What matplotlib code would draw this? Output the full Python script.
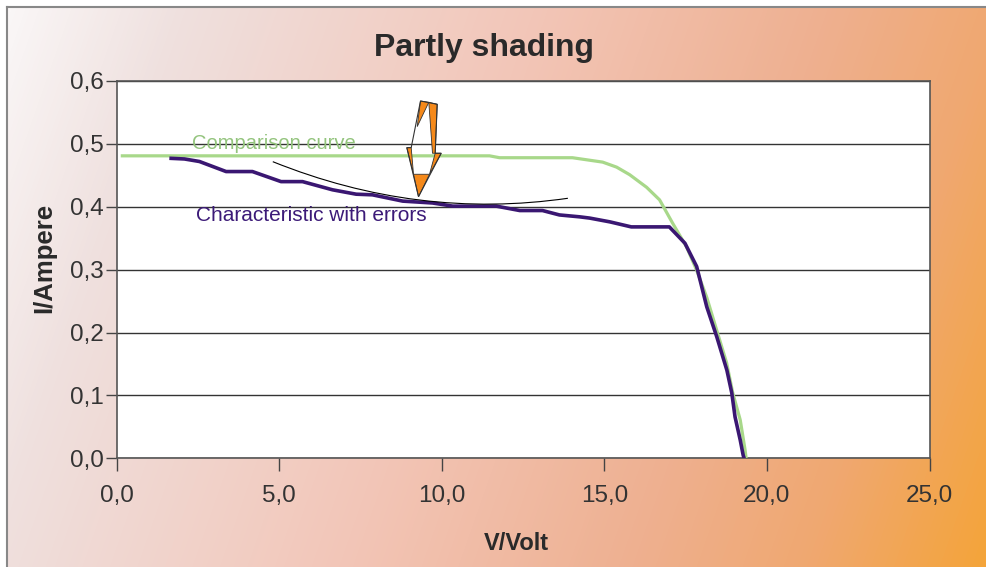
import matplotlib
matplotlib.use('Agg')
import matplotlib.pyplot as plt
import numpy as np
from matplotlib.colors import LinearSegmentedColormap
from matplotlib.path import Path
from matplotlib.patches import PathPatch, Polygon
from matplotlib.lines import Line2D
from matplotlib.ticker import FuncFormatter

plt.rcParams['font.family'] = ['Liberation Sans', 'DejaVu Sans']

# comparison curve (no shading)
comp_v = [0.18, 11.47, 11.78, 14.02, 14.95, 15.38, 15.78, 16.3, 16.7, 17.1,
          17.53, 17.84, 18.15, 18.46, 18.76, 18.95, 19.18, 19.33, 19.36]
comp_i = [0.481, 0.481, 0.478, 0.478, 0.471, 0.463, 0.451, 0.431, 0.411, 0.374,
          0.336, 0.299, 0.256, 0.203, 0.152, 0.104, 0.061, 0.013, 0.0]

# characteristic with errors (partly shaded module)
err_v = [1.68, 2.09, 2.55, 3.37, 4.18, 5.06, 5.72, 6.64, 7.37, 7.87, 8.8, 9.72,
         10.34, 11.68, 12.4, 13.1, 13.62, 14.24, 14.55, 15.17, 15.83, 17.0,
         17.48, 17.84, 18.15, 18.46, 18.77, 18.92, 19.02, 19.18, 19.27, 19.3]
err_i = [0.477, 0.476, 0.472, 0.456, 0.456, 0.440, 0.440, 0.427, 0.420, 0.419,
         0.409, 0.406, 0.401, 0.401, 0.394, 0.394, 0.387, 0.384, 0.382, 0.376,
         0.368, 0.368, 0.342, 0.305, 0.241, 0.193, 0.140, 0.104, 0.066, 0.029,
         0.005, 0.0]

x_ticks = [0, 5, 10, 15, 20, 25]
y_ticks = [0.0, 0.1, 0.2, 0.3, 0.4, 0.5, 0.6]

fig = plt.figure(figsize=(9.86, 5.67), dpi=100)
fig.patch.set_facecolor('white')

# gradient background
bg = fig.add_axes([7/986, 0, 1 - 7/986, 1 - 7/567], zorder=0)
cmap = LinearSegmentedColormap.from_list('bg', [
    (0.0, '#faf7f7'), (0.15, '#efe0de'), (0.45, '#f3c6b8'),
    (0.7, '#eeb090'), (0.85, '#f0a870'), (1.0, '#f4a43a')])
yy, xx = np.mgrid[0:560, 0:979]
t = (xx + 0.35 * yy) / (979 + 0.35 * 560)
bg.imshow(t, cmap=cmap, aspect='auto', interpolation='bilinear')
bg.axis('off')

fig.add_artist(Line2D([7/986, 1], [1 - 7/567, 1 - 7/567], transform=fig.transFigure,
                      color='#888888', lw=1.5))
fig.add_artist(Line2D([7/986, 7/986], [0, 1 - 7/567], transform=fig.transFigure,
                      color='#888888', lw=1.5))

ax = fig.add_axes([116.5/986, 1 - 458.3/567, 813/986, 377.3/567], zorder=1)
ax.set_facecolor('white')

ax.plot(comp_v, comp_i, color='#a8d88a', lw=2.3, zorder=3)
ax.plot(err_v, err_i, color='#3a1772', lw=2.6, zorder=4)

ax.set_xlim(0, 25)
ax.set_ylim(0, 0.6)
ax.set_xticks(x_ticks)
ax.set_yticks(y_ticks)
fmt = FuncFormatter(lambda v, p: f"{v:.1f}".replace('.', ','))
ax.xaxis.set_major_formatter(fmt)
ax.yaxis.set_major_formatter(fmt)
ax.tick_params(axis='x', direction='out', length=9, width=1, color='#444444',
               labelsize=17.5, labelcolor='#333333', pad=10)
ax.tick_params(axis='y', direction='out', length=8, width=1, color='#444444',
               labelsize=17.5, labelcolor='#333333', pad=1)
ax.yaxis.grid(True, color='#333333', lw=1)
ax.set_axisbelow(True)
for s in ax.spines.values():
    s.set_color('#555555')
    s.set_linewidth(1.2)

# annotation curve
p0, c, p2 = (4.806, 0.4717), (9.257, 0.379), (13.88, 0.4135)
curve = Path([p0, c, p2], [Path.MOVETO, Path.CURVE3, Path.CURVE3])
ax.add_patch(PathPatch(curve, fill=False, color='black', lw=0.8, zorder=5))

# double arrow
orange = '#f5891a'
pieces = [
    [(9.348, 0.5682), (9.603, 0.5662), (9.247, 0.5274)],
    [(9.603, 0.5662), (9.862, 0.5630), (9.800, 0.4851), (9.717, 0.4851)],
    [(9.800, 0.4851), (9.985, 0.4851), (9.625, 0.4517)],
    [(8.927, 0.4940), (9.062, 0.4940), (9.133, 0.4517)],
    [(9.133, 0.4517), (9.625, 0.4517), (9.287, 0.4160)],
]
for pc in pieces:
    ax.add_patch(Polygon(pc, closed=True, facecolor=orange, edgecolor='#333333',
                         lw=0.6, zorder=6))
outline = [(9.348, 0.5682), (9.862, 0.5630), (9.800, 0.4851), (9.985, 0.4851),
           (9.287, 0.4160), (8.927, 0.4940), (9.062, 0.4940)]
ax.add_patch(Polygon(outline, closed=True, fill=False, edgecolor='#333333',
                     lw=0.8, zorder=7))

ax.text(2.31, 0.501, 'Comparison curve', color='#93c47d', fontsize=14.5,
        ha='left', va='center', zorder=8)
ax.text(2.43, 0.386, 'Characteristic with errors', color='#3c1a78', fontsize=15,
        ha='left', va='center', zorder=8)

fig.text(483.5/986, 1 - 48/567, 'Partly shading', fontsize=23, fontweight='bold',
         color='#2a2a2a', ha='center', va='center')
fig.text(44/986, 1 - 258/567, 'I/Ampere', fontsize=18.5, fontweight='bold',
         color='#2a2a2a', ha='center', va='center', rotation=90)
fig.text(516/986, 1 - 543/567, 'V/Volt', fontsize=17, fontweight='bold',
         color='#2a2a2a', ha='center', va='center')

fig.savefig('out.png', dpi=100)
